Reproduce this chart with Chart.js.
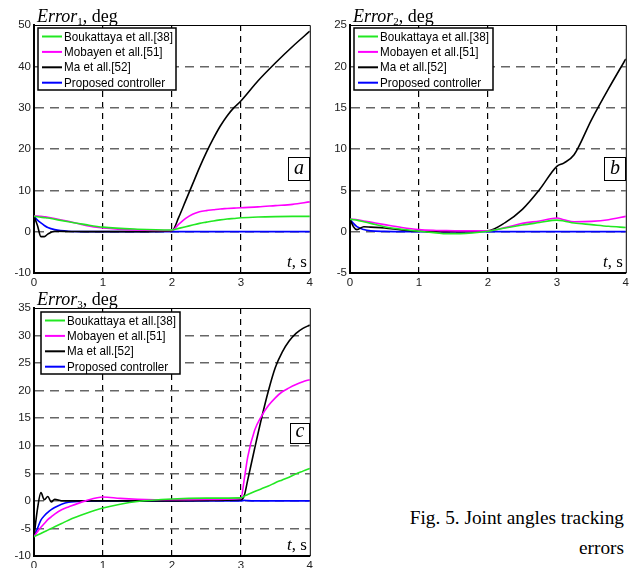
<!DOCTYPE html>
<html>
<head>
<meta charset="utf-8">
<script src="https://cdn.jsdelivr.net/npm/chart.js@4"></script>
<style>
body { margin: 0; background: #fff; width: 632px; height: 568px; position: relative; overflow: hidden; }
canvas { position: absolute; }
#caption { position: absolute; right: 8px; top: 503px; font: 19.3px 'Liberation Serif', 'Times New Roman', serif; line-height: 30px; text-align: right; color: #000; }
</style>
</head>
<body>
<canvas id="chartA" width="316" height="290" style="left:0;top:0"></canvas>
<canvas id="chartB" width="316" height="290" style="left:316px;top:0"></canvas>
<canvas id="chartC" width="316" height="278" style="left:0;top:290px"></canvas>
<div id="caption">Fig. 5. Joint angles tracking<br>errors</div>
<script>
const seriesNames = ['Boukattaya et all.[38]', 'Mobayen et all.[51]', 'Ma et all.[52]', 'Proposed controller'];
const seriesColors = ['#22e822', '#ff00ff', '#000000', '#0000ff'];
const xTicks = [0, 1, 2, 3, 4];

// panel a : Error1
const timeA = [0, 0.05, 0.1, 0.15, 0.2, 0.3, 0.5, 0.75, 1, 1.5, 2, 2.1, 2.2, 2.3, 2.4, 2.5, 2.6, 2.7, 2.8, 2.9, 3, 3.25, 3.5, 3.75, 4];
const boukA = [3.7, 3.6, 3.5, 3.4, 3.3, 3.0, 2.4, 1.7, 1.1, 0.6, 0.4, 0.8, 1.2, 1.6, 2.0, 2.3, 2.6, 2.85, 3.05, 3.2, 3.35, 3.55, 3.65, 3.7, 3.7];
const mobA = [3.8, 3.8, 3.7, 3.6, 3.5, 3.2, 2.5, 1.5, 0.9, 0.4, 0.3, 1.8, 3.2, 4.2, 4.8, 5.1, 5.3, 5.5, 5.6, 5.7, 5.8, 6.0, 6.3, 6.6, 7.2];
const maA = [3.7, 1.5, -1.2, -1.2, -0.6, 0.1, 0.05, 0, 0, 0, 0.2, 3.5, 7.5, 11.5, 15.5, 19.2, 22.5, 25.5, 28, 30, 31.6, 36.5, 40.8, 44.8, 48.5];
const propA = [3.7, 2.8, 2.1, 1.5, 1.0, 0.5, 0.1, 0, 0, 0, 0, 0, 0, 0, 0, 0, 0, 0, 0, 0, 0, 0, 0, 0, 0];
const yTicksA = [-10, 0, 10, 20, 30, 40, 50];

// panel b : Error2
const timeB = [0, 0.05, 0.1, 0.2, 0.3, 0.5, 0.75, 1, 1.25, 1.4, 1.6, 2, 2.25, 2.5, 2.75, 3, 3.1, 3.25, 3.5, 3.75, 4];
const boukB = [1.5, 1.45, 1.4, 1.2, 1.0, 0.6, 0.3, 0.05, -0.15, -0.25, -0.25, 0.05, 0.45, 0.8, 1.1, 1.4, 1.3, 1.05, 0.85, 0.65, 0.5];
const mobB = [1.5, 1.5, 1.45, 1.3, 1.15, 0.85, 0.5, 0.25, 0.15, 0.12, 0.1, 0.1, 0.5, 1.0, 1.3, 1.65, 1.45, 1.2, 1.25, 1.45, 1.85];
const maB = [1.5, 0.6, 0.25, 0.6, 0.55, 0.45, 0.2, 0.05, 0, 0, 0, 0.1, 1.1, 2.7, 5.1, 7.9, 8.3, 9.3, 13.5, 17.3, 20.9];
const propB = [1.5, 1.0, 0.6, 0.25, 0.1, 0.03, 0, 0, 0, 0, 0, 0, 0, 0, 0, 0, 0, 0, 0, 0, 0];
const yTicksB = [-5, 0, 5, 10, 15, 20, 25];

// panel c : Error3
const timeC = [0, 0.05, 0.1, 0.15, 0.2, 0.25, 0.3, 0.4, 0.5, 0.75, 1, 1.25, 1.5, 2, 2.5, 3, 3.05, 3.1, 3.2, 3.3, 3.4, 3.5, 3.6, 3.7, 3.8, 3.9, 4];
const boukC = [-6.5, -6.2, -5.9, -5.6, -5.3, -5.0, -4.7, -4.1, -3.5, -2.3, -1.3, -0.6, -0.1, 0.35, 0.5, 0.55, 0.85, 1.15, 1.7, 2.2, 2.7, 3.3, 3.8, 4.3, 4.9, 5.4, 5.9];
const mobC = [-6.5, -5.6, -4.8, -4.1, -3.4, -2.9, -2.4, -1.6, -1.1, 0.0, 0.7, 0.45, 0.3, 0.2, 0.25, 0.4, 4.0, 8.0, 12.8, 15.4, 17.3, 18.7, 19.8, 20.5, 21.1, 21.6, 22.0];
const maC = [-6.5, -1.5, 1.5, 0.2, 0.8, -0.2, 0.3, 0, 0, 0, 0, 0, 0, 0, 0.1, 0.2, 1.0, 3.8, 9.5, 15.0, 20.0, 24.2, 27.0, 29.0, 30.4, 31.3, 31.9];
const propC = [-6.5, -5.0, -3.5, -2.7, -2.1, -1.6, -1.2, -0.6, -0.25, -0.05, 0, 0, 0, 0, 0, 0, 0.1, 0.05, 0, 0, 0, 0, 0, 0, 0, 0, 0];
const yTicksC = [-10, -5, 0, 5, 10, 15, 20, 25, 30, 35];

const SERIF = '"Liberation Serif", "Times New Roman", serif';
const SANS = '"Liberation Sans", Arial, sans-serif';

const decor = {
  id: 'decor',
  afterDraw(chart, args, o) {
    const ctx = chart.ctx, a = chart.chartArea;
    ctx.save();
    // thin frame on top and right
    ctx.strokeStyle = '#000';
    ctx.lineWidth = 1;
    ctx.beginPath();
    ctx.moveTo(a.left, a.top + 0.5);
    ctx.lineTo(a.right + 0.5, a.top + 0.5);
    ctx.lineTo(a.right + 0.5, a.bottom);
    ctx.stroke();

    // title  Error_n, deg
    ctx.fillStyle = '#000';
    ctx.textAlign = 'left';
    ctx.textBaseline = 'alphabetic';
    let x = a.left + 3, y = a.top - 3;
    ctx.font = 'italic 18px ' + SERIF;
    ctx.fillText('Error', x, y);
    x += ctx.measureText('Error').width;
    ctx.font = '11px ' + SERIF;
    ctx.fillText(o.idx, x, y + 3);
    x += ctx.measureText(o.idx).width;
    ctx.font = '18px ' + SERIF;
    ctx.fillText(', deg', x, y);

    // legend (narrow sans text, like the original)
    const L = o.legend;
    ctx.fillStyle = '#fff';
    ctx.fillRect(L.x, L.y, L.w, L.h);
    ctx.lineWidth = 1.5;
    ctx.strokeRect(L.x, L.y, L.w, L.h);
    ctx.font = '13px ' + SANS;
    ctx.textBaseline = 'middle';
    const squeeze = 109 / ctx.measureText(seriesNames[0]).width;
    seriesNames.forEach((name, i) => {
      const cy = L.y + 8.5 + i * 15.4;
      ctx.strokeStyle = seriesColors[i];
      ctx.lineWidth = 2;
      ctx.beginPath();
      ctx.moveTo(L.x + 4, cy);
      ctx.lineTo(L.x + 24, cy);
      ctx.stroke();
      ctx.fillStyle = '#000';
      ctx.save();
      ctx.translate(L.x + 26, cy + 0.5);
      ctx.scale(squeeze, 1);
      ctx.fillText(name, 0, 0);
      ctx.restore();
    });

    // panel letter
    const B = o.box;
    ctx.fillStyle = '#fff';
    ctx.fillRect(B.x, B.y, B.w, B.h);
    ctx.strokeStyle = '#000';
    ctx.lineWidth = 1;
    ctx.strokeRect(B.x + 0.5, B.y + 0.5, B.w, B.h);
    ctx.fillStyle = '#000';
    ctx.font = 'italic 20px ' + SERIF;
    ctx.textAlign = 'center';
    ctx.textBaseline = 'alphabetic';
    ctx.fillText(o.letter, B.x + B.w / 2 + 0.5, B.y + B.h - 6);

    // t, s
    ctx.textAlign = 'left';
    ctx.font = '17px ' + SERIF;
    const rest = ', s';
    const wRest = ctx.measureText(rest).width;
    ctx.font = 'italic 17px ' + SERIF;
    const wT = ctx.measureText('t').width;
    const x0 = a.right - 3 - wRest - wT;
    ctx.fillText('t', x0, a.bottom - 6);
    ctx.font = '17px ' + SERIF;
    ctx.fillText(rest, x0 + wT, a.bottom - 6);
    ctx.restore();
  }
};

function makeChart(id, cfg) {
  const datasets = cfg.series.map((vals, i) => ({
    label: seriesNames[i],
    data: cfg.time.map((t, k) => ({ x: t, y: vals[k] })),
    borderColor: seriesColors[i],
    borderWidth: 1.6,
    pointRadius: 0,
    cubicInterpolationMode: 'monotone',
    fill: false
  }));
  const yMin = cfg.yTicks[0], yMax = cfg.yTicks[cfg.yTicks.length - 1];
  new Chart(document.getElementById(id), {
    type: 'line',
    data: { datasets },
    options: {
      responsive: false,
      animation: false,
      layout: { padding: { top: cfg.top, right: cfg.right, left: 0, bottom: 0 } },
      plugins: {
        legend: { display: false },
        tooltip: { enabled: false },
        decor: { idx: cfg.idx, letter: cfg.letter, legend: cfg.legend, box: cfg.box }
      },
      scales: {
        x: {
          type: 'linear',
          min: 0, max: 4,
          afterBuildTicks: s => { s.ticks = xTicks.map(v => ({ value: v })); },
          afterFit: s => { s.height = cfg.xH; },
          ticks: { color: '#222', font: { family: SANS, size: 11.5 }, padding: 3, maxRotation: 0 },
          grid: {
            drawTicks: false,
            lineWidth: 1.2,
            color: c => (c.tick && (c.tick.value === 0 || c.tick.value === 4)) ? 'rgba(0,0,0,0)' : '#000'
          },
          border: { display: true, color: '#000', width: 2, dash: [6, 5] }
        },
        y: {
          min: yMin, max: yMax,
          afterBuildTicks: s => { s.ticks = cfg.yTicks.map(v => ({ value: v })); },
          afterFit: s => { s.width = 34; },
          ticks: { color: '#222', font: { family: SANS, size: 11.5 }, padding: 3 },
          grid: {
            drawTicks: false,
            lineWidth: 1.5,
            color: c => (c.tick && (c.tick.value === yMin || c.tick.value === yMax)) ? 'rgba(0,0,0,0)' : '#666'
          },
          border: { display: true, color: '#000', width: 2, dash: [9, 6] }
        }
      }
    },
    plugins: [decor]
  });
}

makeChart('chartA', {
  idx: '1', letter: 'a', time: timeA, series: [boukA, mobA, maA, propA], yTicks: yTicksA,
  top: 25, right: 2, xH: 17,
  legend: { x: 38, y: 28, w: 138, h: 62 }, box: { x: 288, y: 157, w: 21, h: 23 }
});
makeChart('chartB', {
  idx: '2', letter: 'b', time: timeB, series: [boukB, mobB, maB, propB], yTicks: yTicksB,
  top: 25, right: 3, xH: 17,
  legend: { x: 38, y: 28, w: 139, h: 62 }, box: { x: 288, y: 157, w: 21, h: 23 }
});
makeChart('chartC', {
  idx: '3', letter: 'c', time: timeC, series: [boukC, mobC, maC, propC], yTicks: yTicksC,
  top: 18, right: 3, xH: 12,
  legend: { x: 41, y: 22, w: 139, h: 62 }, box: { x: 290, y: 133, w: 19, h: 20 }
});
</script>
</body>
</html>
